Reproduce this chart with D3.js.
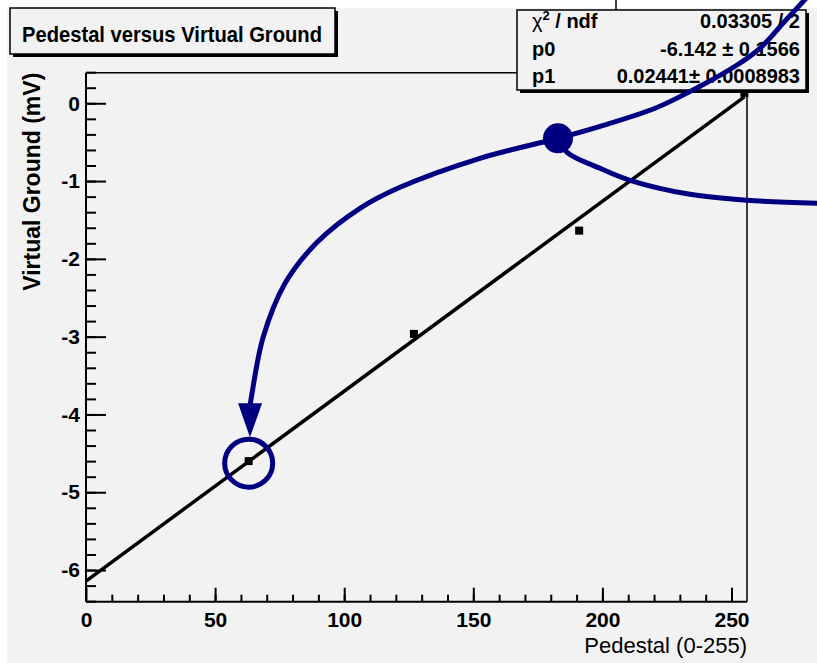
<!DOCTYPE html>
<html lang="en">
<head>
<meta charset="UTF-8">
<title>Pedestal versus Virtual Ground</title>
<script src="https://d3js.org/d3.v7.min.js"></script>
<style>
  body { margin: 0; background: #fff; }
  svg { display: block; font-family: "Liberation Sans", Arial, Helvetica, sans-serif; }
  .axis text { font-size: 21px; font-weight: bold; fill: #000; }
  .axis line { stroke: #000; stroke-width: 2; }
  .axis .domain { display: none; }
  .stat { font-size: 20px; font-weight: bold; fill: #000; }
  .note { fill: none; stroke: #000080; stroke-width: 5; }
</style>
</head>
<body>
<div id="chart"></div>
<script>
const width = 817, height = 663;

// measured points
const pedestal = [63, 127, 191, 255];
const virtualGround = [-4.60, -2.965, -1.637, 0.13];

// linear fit
const fitP0 = -6.142, fitP1 = 0.02441;
const fitRange = [0, 255];

const xTicks = [0, 50, 100, 150, 200, 250];
const yTicks = [0, -1, -2, -3, -4, -5, -6];
const xMinor = d3.range(10, 256, 10);
const yMinor = d3.range(-6.4, 0.41, 0.2);

const statLabels = ["p0", "p1"];
const statValues = ["0.03305 / 2", "-6.142 \u00b1 0.1566", "0.02441\u00b1 0.0008983"];

// hand drawn annotation, in data units
const arrowCurve = [[278.9, 1.35], [270.3, 1.041], [261.0, 0.707], [251.4, 0.476], [237.8, 0.219],
  [220.4, -0.064], [199.1, -0.296], [182.8, -0.45], [152.6, -0.707], [121.6, -1.08], [106.1, -1.35],
  [89.5, -1.787], [77.1, -2.314], [68.6, -3.008], [64.3, -3.728], [63.5, -3.895]];
const branchCurve = [[182.8, -0.45], [186.3, -0.63], [199.1, -0.836], [210.7, -0.99], [233.9, -1.17],
  [256, -1.247], [284.3, -1.286]];
const arrowHead = [[58.9, -3.857], [68.2, -3.857], [63.5, -4.294]];
const knot = [182.8, -0.45];
const circled = 0; // index of the circled point

const x = d3.scaleLinear().domain([0, 256]).range([86, 747]);
const y = d3.scaleLinear().domain([-6.407, 0.393]).range([601.7, 72.7]);

const svg = d3.select("#chart").append("svg")
  .attr("width", width).attr("height", height);

// pad background
svg.append("rect").attr("x", 7).attr("y", 8).attr("width", width - 7).attr("height", height - 8)
  .attr("fill", "#f2f2f2");
svg.append("line").attr("x1", 616).attr("x2", 616).attr("y1", 0).attr("y2", 10)
  .attr("stroke", "#000").attr("stroke-width", 1.5);

// frame
svg.append("line").attr("x1", x(0)).attr("x2", x(256)).attr("y1", y(0.393)).attr("y2", y(0.393))
  .attr("stroke", "#000").attr("stroke-width", 1.5);
svg.append("line").attr("x1", x(256)).attr("x2", x(256)).attr("y1", y(0.393)).attr("y2", y(-6.407))
  .attr("stroke", "#000").attr("stroke-width", 1.5);

// fit line
svg.append("line")
  .attr("x1", x(fitRange[0])).attr("y1", y(fitP0 + fitP1 * fitRange[0]))
  .attr("x2", x(fitRange[1])).attr("y2", y(fitP0 + fitP1 * fitRange[1]))
  .attr("stroke", "#000").attr("stroke-width", 3.5);

// data markers
svg.selectAll(".pt").data(pedestal).enter().append("rect")
  .attr("class", "pt")
  .attr("x", d => x(d) - 4).attr("y", (d, i) => y(virtualGround[i]) - 4)
  .attr("width", 8).attr("height", 8).attr("fill", "#000");

// axes
const xAxis = d3.axisBottom(x).tickValues(xTicks).tickSize(-14).tickPadding(10).tickFormat(d => String(d));
const xAxisMinor = d3.axisBottom(x).tickValues(xMinor).tickSize(-7).tickFormat("");
const yAxis = d3.axisLeft(y).tickValues(yTicks).tickSize(-20).tickPadding(6).tickFormat(d => String(d));
const yAxisMinor = d3.axisLeft(y).tickValues(yMinor).tickSize(-10).tickFormat("");

svg.append("g").attr("class", "axis").attr("transform", `translate(0,${y(-6.407)})`).call(xAxis);
svg.append("g").attr("class", "axis").attr("transform", `translate(0,${y(-6.407)})`).call(xAxisMinor);
svg.append("g").attr("class", "axis").attr("transform", `translate(${x(0)},0)`).call(yAxis);
svg.append("g").attr("class", "axis").attr("transform", `translate(${x(0)},0)`).call(yAxisMinor);

svg.append("line").attr("x1", x(0)).attr("x2", x(256)).attr("y1", y(-6.407)).attr("y2", y(-6.407))
  .attr("stroke", "#000").attr("stroke-width", 2);
svg.append("line").attr("x1", x(0)).attr("x2", x(0)).attr("y1", y(0.393)).attr("y2", y(-6.407))
  .attr("stroke", "#000").attr("stroke-width", 2);

// axis titles
svg.append("text")
  .attr("x", x(256)).attr("y", 653)
  .attr("text-anchor", "end")
  .attr("font-size", 22)
  .text("Pedestal (0-255)");

svg.append("text")
  .attr("transform", "rotate(-90)")
  .attr("x", -y(0.393)).attr("y", 40)
  .attr("text-anchor", "end")
  .attr("font-size", 23).attr("font-weight", "bold")
  .text("Virtual Ground (mV)");

// title box
svg.append("rect").attr("x", 13).attr("y", 11).attr("width", 325).attr("height", 46).attr("fill", "#000");
svg.append("rect").attr("x", 10).attr("y", 8).attr("width", 325).attr("height", 46)
  .attr("fill", "#f2f2f2").attr("stroke", "#000").attr("stroke-width", 1.5);
svg.append("text")
  .attr("x", 22).attr("y", 42)
  .attr("font-size", 22).attr("font-weight", "bold")
  .attr("textLength", 300).attr("lengthAdjust", "spacingAndGlyphs")
  .text("Pedestal versus Virtual Ground");

// stats box
svg.append("rect").attr("x", 520).attr("y", 13).attr("width", 289).attr("height", 80).attr("fill", "#000");
svg.append("rect").attr("x", 517).attr("y", 10).attr("width", 289).attr("height", 80)
  .attr("fill", "#f2f2f2").attr("stroke", "#000").attr("stroke-width", 1.5);

const rowY = [28, 56, 83];
const chi = svg.append("text").attr("class", "stat").attr("x", 532).attr("y", rowY[0]);
chi.append("tspan").attr("font-weight", "normal").text("\u03c7");
chi.append("tspan").attr("font-size", 13).attr("dy", -8).text("2");
chi.append("tspan").attr("dy", 8).text(" / ndf");
statLabels.forEach((s, i) => {
  svg.append("text").attr("class", "stat").attr("x", 532).attr("y", rowY[i + 1]).text(s);
});
statValues.forEach((s, i) => {
  svg.append("text").attr("class", "stat").attr("x", 800).attr("y", rowY[i])
    .attr("text-anchor", "end").text(s);
});

// annotation
const curve = d3.line().x(d => x(d[0])).y(d => y(d[1])).curve(d3.curveCatmullRom.alpha(0.5));
svg.append("path").attr("class", "note").attr("d", curve(arrowCurve));
svg.append("path").attr("class", "note").attr("d", curve(branchCurve));
svg.append("path")
  .attr("d", "M" + arrowHead.map(d => [x(d[0]), y(d[1])].join(",")).join("L") + "Z")
  .attr("fill", "#000080");
svg.append("circle").attr("cx", x(knot[0])).attr("cy", y(knot[1])).attr("r", 15).attr("fill", "#000080");
svg.append("circle")
  .attr("cx", x(pedestal[circled])).attr("cy", y(virtualGround[circled]) + 2)
  .attr("r", 24).attr("fill", "none").attr("stroke", "#000080").attr("stroke-width", 5);
</script>
</body>
</html>
